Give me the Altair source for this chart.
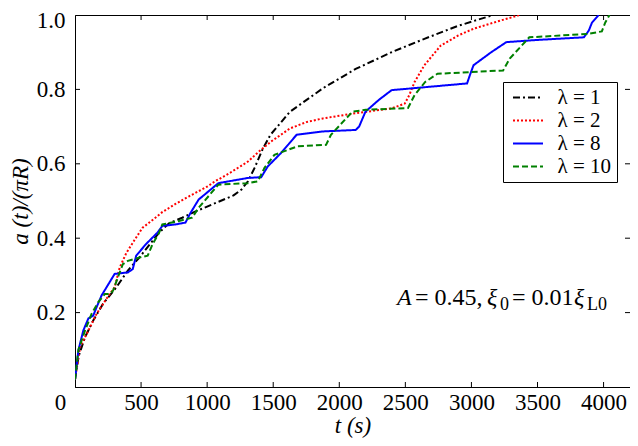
import altair as alt
import pandas as pd

# ---- data ----
lam_labels = ["λ = 1", "λ = 2", "λ = 8", "λ = 10"]
line_colors = ["#000000", "#ff0000", "#0000ff", "#008000"]

t1 = [0, 26, 76, 138, 213, 313, 400, 487, 587, 637, 711, 811, 900, 1000, 1100, 1200, 1260, 1309, 1359,
      1421, 1479, 1627, 1876, 2124, 2396, 2644, 2892, 3165]
a1 = [0.02, 0.081, 0.134, 0.179, 0.224, 0.268, 0.313, 0.348, 0.393, 0.415, 0.44, 0.455, 0.47, 0.485, 0.5,
      0.515, 0.531, 0.553, 0.589, 0.64, 0.678, 0.74, 0.803, 0.855, 0.9, 0.936, 0.97, 1.0]

t2 = [0, 39, 89, 164, 238, 300, 338, 388, 463, 511, 562, 660, 760, 860, 1007, 1060, 1160, 1255, 1309, 1392,
      1484, 1627, 1750, 1876, 2124, 2396, 2496, 2530, 2570, 2644, 2768, 2900, 3016, 3200, 3364]
a2 = [0.02, 0.108, 0.143, 0.197, 0.237, 0.268, 0.321, 0.36, 0.402, 0.428, 0.442, 0.47, 0.492, 0.512, 0.54,
      0.553, 0.573, 0.594, 0.606, 0.633, 0.66, 0.695, 0.712, 0.722, 0.736, 0.749, 0.762, 0.785, 0.82, 0.865,
      0.918, 0.945, 0.963, 0.983, 1.0]

t8 = [0, 26, 63, 101, 138, 164, 201, 300, 400, 437, 463, 537, 624, 661, 760, 836, 874, 936, 1085, 1309,
      1409, 1459, 1559, 1677, 1876, 2124, 2150, 2198, 2300, 2396, 2967, 2990, 3016, 3150, 3264, 3500, 3851,
      3888, 3913, 3963]
a8 = [0.02, 0.099, 0.152, 0.184, 0.192, 0.215, 0.246, 0.304, 0.308, 0.317, 0.353, 0.384, 0.415, 0.433,
      0.437, 0.442, 0.468, 0.504, 0.548, 0.562, 0.564, 0.593, 0.629, 0.678, 0.687, 0.691, 0.7, 0.74, 0.772,
      0.798, 0.816, 0.84, 0.865, 0.9, 0.927, 0.933, 0.94, 0.958, 0.98, 1.0]

t10 = [0, 26, 76, 126, 176, 226, 263, 288, 330, 362, 400, 487, 550, 587, 637, 661, 761, 886, 936, 1085,
       1309, 1384, 1434, 1509, 1684, 1900, 1937, 2099, 2200, 2520, 2570, 2650, 2743, 3240, 3290, 3438, 3876,
       3987, 4013, 4045]
a10 = [0.02, 0.1, 0.152, 0.197, 0.228, 0.25, 0.25, 0.259, 0.3, 0.33, 0.339, 0.348, 0.353, 0.384, 0.415,
       0.437, 0.444, 0.455, 0.482, 0.544, 0.548, 0.553, 0.589, 0.624, 0.647, 0.651, 0.678, 0.74, 0.745, 0.75,
       0.785, 0.82, 0.842, 0.851, 0.883, 0.94, 0.949, 0.956, 0.98, 1.0]

x_ticks = [0, 500, 1000, 1500, 2000, 2500, 3000, 3500, 4000]
y_ticks = [0.2, 0.4, 0.6, 0.8, 1.0]

# ---- build tables ----
rows = []
for lab, ts, as_ in zip(lam_labels, [t1, t2, t8, t10], [a1, a2, a8, a10]):
    for t, a in zip(ts, as_):
        rows.append({"t": t, "a": a, "lam": lab})
df = pd.DataFrame(rows)
xt_df = pd.DataFrame({"t": x_ticks[1:]})
yt_df = pd.DataFrame({"a": y_ticks[:-1]})

W, H = 555, 372
TOP = 7
FONT = "Liberation Serif"
xscale = alt.Scale(domain=[0, 4200], nice=False, zero=False)
yscale = alt.Scale(domain=[0, 1], nice=False, zero=False)

xaxis = alt.Axis(
    values=x_ticks, format="d", tickSize=0, grid=False, domainColor="black",
    labelFont=FONT, labelFontSize=23, labelColor="black", labelPadding=4,
    labelFlush=False, labelOverlap=False,
    labelOffset={"condition": {"test": "datum.value == 0", "value": -15}, "value": 0},
    title="t (s)", titleFont=FONT, titleFontSize=23, titleFontStyle="italic",
    titleFontWeight="normal", titleColor="black", titlePadding=0)
yaxis = alt.Axis(
    values=y_ticks, format=".1f", tickSize=0, grid=False, domainColor="black",
    labelFont=FONT, labelFontSize=23, labelColor="black", labelPadding=10,
    labelOverlap=False, labelFlush=False,
    labelOffset={"condition": {"test": "datum.value == 1", "value": 5}, "value": 0},
    title="a (t)/(πR)", titleFont=FONT, titleFontSize=23, titleFontStyle="italic",
    titleFontWeight="normal", titleColor="black", titlePadding=4)

legend = alt.Legend(
    orient="none", legendX=428, legendY=67, title=None,
    symbolType="M-2,0H2", symbolSize=225, symbolStrokeWidth=2,
    symbolOffset=9.5, labelOffset=19,
    labelFont=FONT, labelFontSize=21, labelColor="black",
    padding=5, rowPadding=1,
    strokeColor="black", fillColor="white",
)

lines = alt.Chart(df).mark_line(strokeWidth=2, clip=True).encode(
    x=alt.X("t:Q", scale=xscale, axis=xaxis),
    y=alt.Y("a:Q", scale=yscale, axis=yaxis),
    color=alt.Color("lam:N", scale=alt.Scale(domain=lam_labels, range=line_colors), legend=legend),
    strokeDash=alt.StrokeDash("lam:N", scale=alt.Scale(
        domain=lam_labels, range=[[7, 3, 2, 3], [2, 2], [1, 0], [6, 3]]), legend=legend),
    order="t:Q",
)

def xticks(y0, y1):
    return alt.Chart(xt_df).mark_rule(color="black", strokeWidth=1).encode(
        x=alt.X("t:Q", scale=xscale, axis=xaxis), y=alt.value(y0), y2=alt.value(y1))

def yticks(x0, x1):
    return alt.Chart(yt_df).mark_rule(color="black", strokeWidth=1).encode(
        y=alt.Y("a:Q", scale=yscale, axis=yaxis), x=alt.value(x0), x2=alt.value(x1))

one = pd.DataFrame({"k": [0]})

def label(txt, x, y, size=24, style="normal"):
    return alt.Chart(one).mark_text(
        text=txt, font=FONT, fontSize=size, fontStyle=style, color="black",
        align="left", baseline="alphabetic").encode(x=alt.value(x), y=alt.value(y))

annot = (label("A", 322, 290, style="italic")
         + label("= 0.45,", 340, 290)
         + label("ξ", 412, 290, style="italic")
         + label("0", 425, 295, size=18)
         + label("= 0.01", 437, 290)
         + label("ξ", 499, 290, style="italic")
         + label("L0", 512, 295, size=18))

chart = alt.layer(
    lines,
    xticks(H, H - 5), xticks(0, 5),
    yticks(0, 5), yticks(W, W - 5),
    annot,
).properties(
    width=W, height=H,
    autosize=alt.AutoSizeParams(type="none"),
    padding={"left": 67, "top": TOP, "right": 0, "bottom": 51},
    background="white",
).configure_view(stroke="black", strokeWidth=1)

chart.save("out.html", embed_options={"renderer": "svg", "actions": False})
